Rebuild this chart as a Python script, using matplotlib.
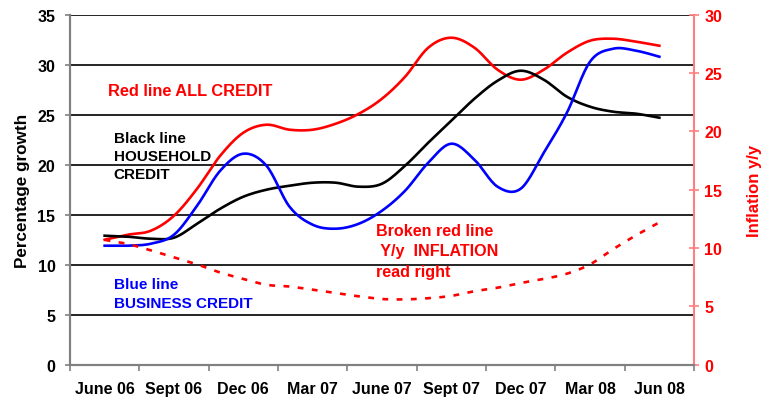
import matplotlib

matplotlib.use("Agg")

import matplotlib.pyplot as plt
import numpy as np

plt.rcParams["font.family"] = ["Liberation Sans", "DejaVu Sans"]
plt.rcParams["font.weight"] = "bold"

# monthly observations, June 06 .. June 08
MONTHS = np.arange(25)
TICK_LABELS = ["June 06", "Sept 06", "Dec 06", "Mar 07", "June 07",
               "Sept 07", "Dec 07", "Mar 08", "Jun 08"]

ALL_CREDIT = [12.5, 13.0, 13.4, 14.9, 17.6, 20.9, 23.2, 24.0, 23.5, 23.5,
              24.1, 25.1, 26.6, 28.8, 31.7, 32.7, 31.7, 29.5, 28.5, 29.5,
              31.2, 32.4, 32.6, 32.3, 31.9]
HOUSEHOLD = [12.9, 12.8, 12.6, 12.7, 14.1, 15.6, 16.8, 17.5, 17.9, 18.2,
             18.2, 17.8, 18.1, 19.9, 22.2, 24.4, 26.6, 28.4, 29.4, 28.5,
             26.8, 25.8, 25.3, 25.1, 24.7]
BUSINESS = [11.9, 11.9, 12.1, 13.0, 15.9, 19.4, 21.1, 19.9, 15.8, 14.0,
            13.6, 14.1, 15.4, 17.4, 20.2, 22.1, 20.5, 17.8, 17.6, 21.2,
            25.2, 30.3, 31.6, 31.4, 30.8]
INFLATION = [10.7, 10.35, 9.8, 9.2, 8.6, 7.9, 7.35, 6.85, 6.7, 6.43,
             6.14, 5.86, 5.63, 5.6, 5.7, 5.9, 6.3, 6.6, 7.0, 7.35,
             7.8, 8.6, 9.9, 11.1, 12.2]


def smooth(x, y, n=16):
    """Catmull-Rom curve through the points, like Excel's smoothed line."""
    x = np.asarray(x, float)
    y = np.asarray(y, float)
    px = np.concatenate([[x[0]], x, [x[-1]]])
    py = np.concatenate([[y[0]], y, [y[-1]]])
    t = np.linspace(0, 1, n, endpoint=False)
    xs, ys = [], []
    for i in range(1, len(px) - 2):
        for p, out in ((px, xs), (py, ys)):
            p0, p1, p2, p3 = p[i - 1], p[i], p[i + 1], p[i + 2]
            out.extend(0.5 * (2 * p1 + (-p0 + p2) * t
                              + (2 * p0 - 5 * p1 + 4 * p2 - p3) * t ** 2
                              + (-p0 + 3 * p1 - 3 * p2 + p3) * t ** 3))
    xs.append(x[-1])
    ys.append(y[-1])
    return np.array(xs), np.array(ys)


fig = plt.figure(figsize=(7.69, 4.02), dpi=100)
ax = fig.add_axes([0.091, 0.0903, 0.8115, 0.8706])
ax2 = ax.twinx()

for vals, color in ((ALL_CREDIT, "#ff0000"), (HOUSEHOLD, "#000000"),
                    (BUSINESS, "#0000ff")):
    sx, sy = smooth(MONTHS, vals)
    ax.plot(sx, sy, color=color, linewidth=1.9, zorder=3)

sx, sy = smooth(MONTHS, INFLATION)
ax2.plot(sx, sy, color="#ff0000", linewidth=1.9, dashes=(2.2, 3.2))

ax.set_xlim(-1.5, 25.5)
ax.set_ylim(0, 35)
ax2.set_ylim(0, 30)

ax.set_yticks(np.arange(0, 36, 5))
for v in range(5, 36, 5):
    ax.axhline(v, color="black", linewidth=1.2, zorder=1)

ax.set_xticks(np.arange(-1.5, 26, 3))
ax.set_xticklabels([])
ax.set_xticks(np.arange(0, 25, 3), minor=True)
ax.set_xticklabels(TICK_LABELS, minor=True)
ax.tick_params(axis="x", which="major", length=4, color="#808080", width=1.2)
ax.tick_params(axis="x", which="minor", length=0, pad=12, labelsize=11.5)
ax.tick_params(axis="y", length=3.5, color="#808080", width=1.2, pad=7,
               labelsize=11.5)

ax2.set_yticks(np.arange(0, 31, 5))
ax2.tick_params(axis="y", direction="inout", length=7, color="#ff7f7f",
                width=1.2, labelcolor="#ff0000", labelsize=11.5, pad=4)

for a in (ax, ax2):
    a.spines["top"].set_visible(False)
    a.spines["left"].set_color("#808080")
    a.spines["bottom"].set_color("#808080")
    a.spines["left"].set_linewidth(1.5)
    a.spines["bottom"].set_linewidth(1.5)
ax.spines["right"].set_visible(False)
ax2.spines["right"].set_color("#ff7f7f")
ax2.spines["right"].set_linewidth(1.5)

ax.set_ylabel("Percentage growth", fontsize=12.3, fontweight="bold", labelpad=5)
ax2.set_ylabel("Inflation y/y", fontsize=12, fontweight="bold",
               color="#ff0000", labelpad=18)

ax.text(0.13, 27.4, "Red line ALL CREDIT", color="#ff0000", fontsize=11.8,
        va="center", ha="left")
ax.text(0.39, 23.4, "Black line\nHOUSEHOLD\nCREDIT", color="black",
        fontsize=11, va="top", ha="left", linespacing=1.36)
ax.text(0.39, 8.75, "Blue line\nBUSINESS CREDIT", color="#0000ff",
        fontsize=11, va="top", ha="left", linespacing=1.43)
ax.text(11.75, 14.2, "Broken red line\n Y/y  INFLATION\nread right",
        color="#ff0000", fontsize=11.6, va="top", ha="left", linespacing=1.47)

fig.savefig("out.png", dpi=100)
